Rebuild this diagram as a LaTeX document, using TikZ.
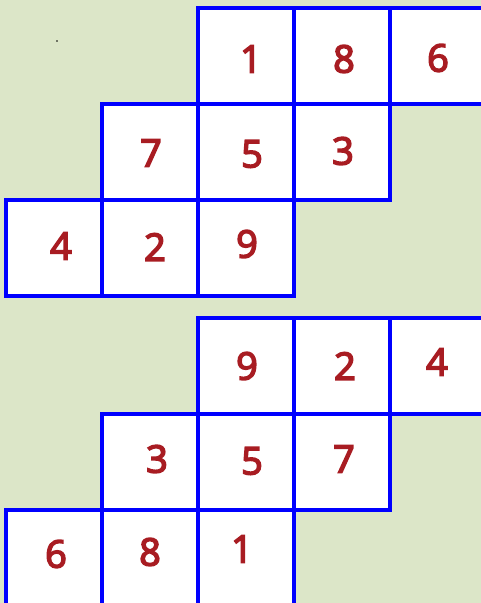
\documentclass[tikz,border=0pt]{standalone}
\usepackage{fontspec}
\setmainfont{Open Sans}
\newfontfamily\numfont{Open Sans}[FakeBold=4]
\definecolor{bg}{HTML}{DCE6C8}
\definecolor{gridblue}{HTML}{0000FF}
\definecolor{digit}{HTML}{A81C22}
\tikzset{
  cell/.style={draw=gridblue, line width=3.4pt, fill=white, minimum size=96pt, inner sep=0pt, outer sep=0pt},
  num/.style={text=digit, font=\numfont\fontsize{38}{38}\selectfont, inner sep=0pt}
}
\begin{document}
\begin{tikzpicture}[x=1pt,y=-1pt]
\fill[bg] (0,0) rectangle (481,603);
\useasboundingbox (0,0) rectangle (481,603);
\clip (0,0) rectangle (481,603);
\fill[black] (57,41) circle (0.8pt);
% top grid
\node[cell] (a1) at (246,56) {};
\node[cell] (a2) at (342,56) {};
\node[cell] (a3) at (438,56) {};
\node[cell] (a4) at (150,152) {};
\node[cell] (a5) at (246,152) {};
\node[cell] (a6) at (342,152) {};
\node[cell] (a7) at (54,248) {};
\node[cell] (a8) at (150,248) {};
\node[cell] (a9) at (246,248) {};
\node[num] (n1) at (251,59) {1};
\node[num] (n8) at (344,59) {8};
\node[num] (n6) at (438,58) {6};
\node[num] (n7) at (151,153) {7};
\node[num] (n5) at (252,154) {5};
\node[num] (n3) at (343,151) {3};
\node[num] (n4) at (61,246) {4};
\node[num] (n2) at (155,247) {2};
\node[num] (n9) at (247,244) {9};
% bottom grid
\node[cell] (b1) at (246,366) {};
\node[cell] (b2) at (342,366) {};
\node[cell] (b3) at (438,366) {};
\node[cell] (b4) at (150,462) {};
\node[cell] (b5) at (246,462) {};
\node[cell] (b6) at (342,462) {};
\node[cell] (b7) at (54,558) {};
\node[cell] (b8) at (150,558) {};
\node[cell] (b9) at (246,558) {};
\node[num] (m9) at (247,366) {9};
\node[num] (m2) at (345,366) {2};
\node[num] (m4) at (437,362) {4};
\node[num] (m3) at (157,459) {3};
\node[num] (m5) at (252,461) {5};
\node[num] (m7) at (344,459) {7};
\node[num] (m6) at (56,554) {6};
\node[num] (m8) at (150,552) {8};
\node[num] (m1) at (242,549) {1};
\end{tikzpicture}
\end{document}
